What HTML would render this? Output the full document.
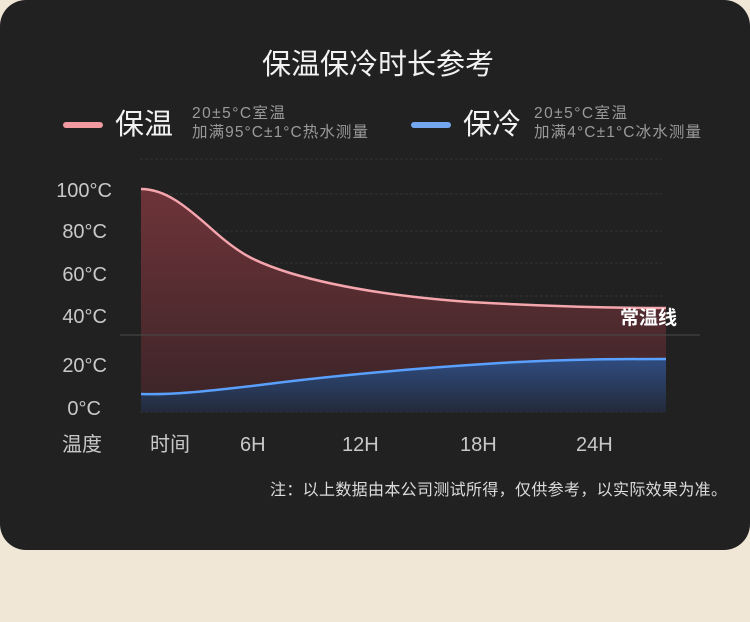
<!DOCTYPE html>
<html><head><meta charset="utf-8"><style>
html,body{margin:0;padding:0;width:750px;height:622px;background:#f1e7d6;overflow:hidden}
.card{position:absolute;left:0;top:0;width:750px;height:550px;background:#212121;border-radius:26px}
svg{position:absolute;left:0;top:0}
text{font-family:"Liberation Sans","Noto Sans CJK SC",sans-serif}
</style></head><body>
<div class="card"></div>
<svg width="750" height="622" viewBox="0 0 750 622">
<defs>
<linearGradient id="rg" x1="0" y1="0" x2="0" y2="1"><stop offset="0" stop-color="#6e3439"/><stop offset="1" stop-color="#3a2427"/></linearGradient>
<linearGradient id="bg" x1="0" y1="0" x2="0" y2="1"><stop offset="0" stop-color="#2f4c80"/><stop offset="1" stop-color="#232a3a"/></linearGradient>
</defs>
<text x="378" y="74" fill="#f2f2f2" font-size="29" text-anchor="middle">保温保冷时长参考</text>
<line x1="66" y1="125" x2="100" y2="125" stroke="#f19aa0" stroke-width="6" stroke-linecap="round"/>
<text x="115" y="134" fill="#f2f2f2" font-size="29">保温</text>
<text x="192" y="118" fill="#9a9a9a" font-size="15.5" textLength="93">20±5°C室温</text>
<text x="192" y="137" fill="#9a9a9a" font-size="15.5" textLength="176">加满95°C±1°C热水测量</text>
<line x1="414" y1="125" x2="448" y2="125" stroke="#74a6f0" stroke-width="6" stroke-linecap="round"/>
<text x="463" y="134" fill="#f2f2f2" font-size="29">保冷</text>
<text x="534" y="118" fill="#9a9a9a" font-size="15.5" textLength="93">20±5°C室温</text>
<text x="534" y="137" fill="#9a9a9a" font-size="15.5" textLength="167">加满4°C±1°C冰水测量</text>
<g stroke="#333" stroke-width="1" stroke-dasharray="3 2">
<line x1="140" y1="159" x2="662" y2="159"/><line x1="140" y1="194" x2="662" y2="194"/>
<line x1="140" y1="231" x2="662" y2="231"/><line x1="140" y1="263" x2="662" y2="263"/>
<line x1="140" y1="296" x2="662" y2="296"/><line x1="140" y1="373" x2="662" y2="373"/>
<line x1="140" y1="412" x2="662" y2="412"/>
</g>
<path d="M141,189 C165,189 185,205 215,232 C240,254 255,262 290,273 C340,288 400,297 470,302 C540,306 600,308 666,308 L666,412 L141,412 Z" fill="url(#rg)"/>
<path d="M141,394 C170,395 200,392 260,385 C330,376 420,368 500,363 C570,359 620,359 666,359 L666,412 L141,412 Z" fill="url(#bg)"/>
<line x1="120" y1="335" x2="700" y2="335" stroke="#4a4a4a" stroke-width="1"/>
<path d="M141,189 C165,189 185,205 215,232 C240,254 255,262 290,273 C340,288 400,297 470,302 C540,306 600,308 666,308" fill="none" stroke="#f5a6ad" stroke-width="2.5"/>
<path d="M141,394 C170,395 200,392 260,385 C330,376 420,368 500,363 C570,359 620,359 666,359" fill="none" stroke="#5aa0ff" stroke-width="2.5"/>
<g fill="#c8c8c8" font-size="20" text-anchor="end">
<text x="112" y="197">100°C</text><text x="107" y="238">80°C</text><text x="107" y="281">60°C</text>
<text x="107" y="323">40°C</text><text x="107" y="372">20°C</text><text x="101" y="415">0°C</text>
</g>
<g fill="#c8c8c8" font-size="20">
<text x="62" y="451">温度</text><text x="150" y="451">时间</text><text x="240" y="451">6H</text>
<text x="342" y="451">12H</text><text x="460" y="451">18H</text><text x="576" y="451">24H</text>
</g>
<text x="620" y="324" fill="#ffffff" font-size="19" font-weight="bold">常温线</text>
<text x="727" y="495" fill="#dcdcdc" font-size="16" text-anchor="end" textLength="457">注：以上数据由本公司测试所得，仅供参考，以实际效果为准。</text>
</svg>
</body></html>
